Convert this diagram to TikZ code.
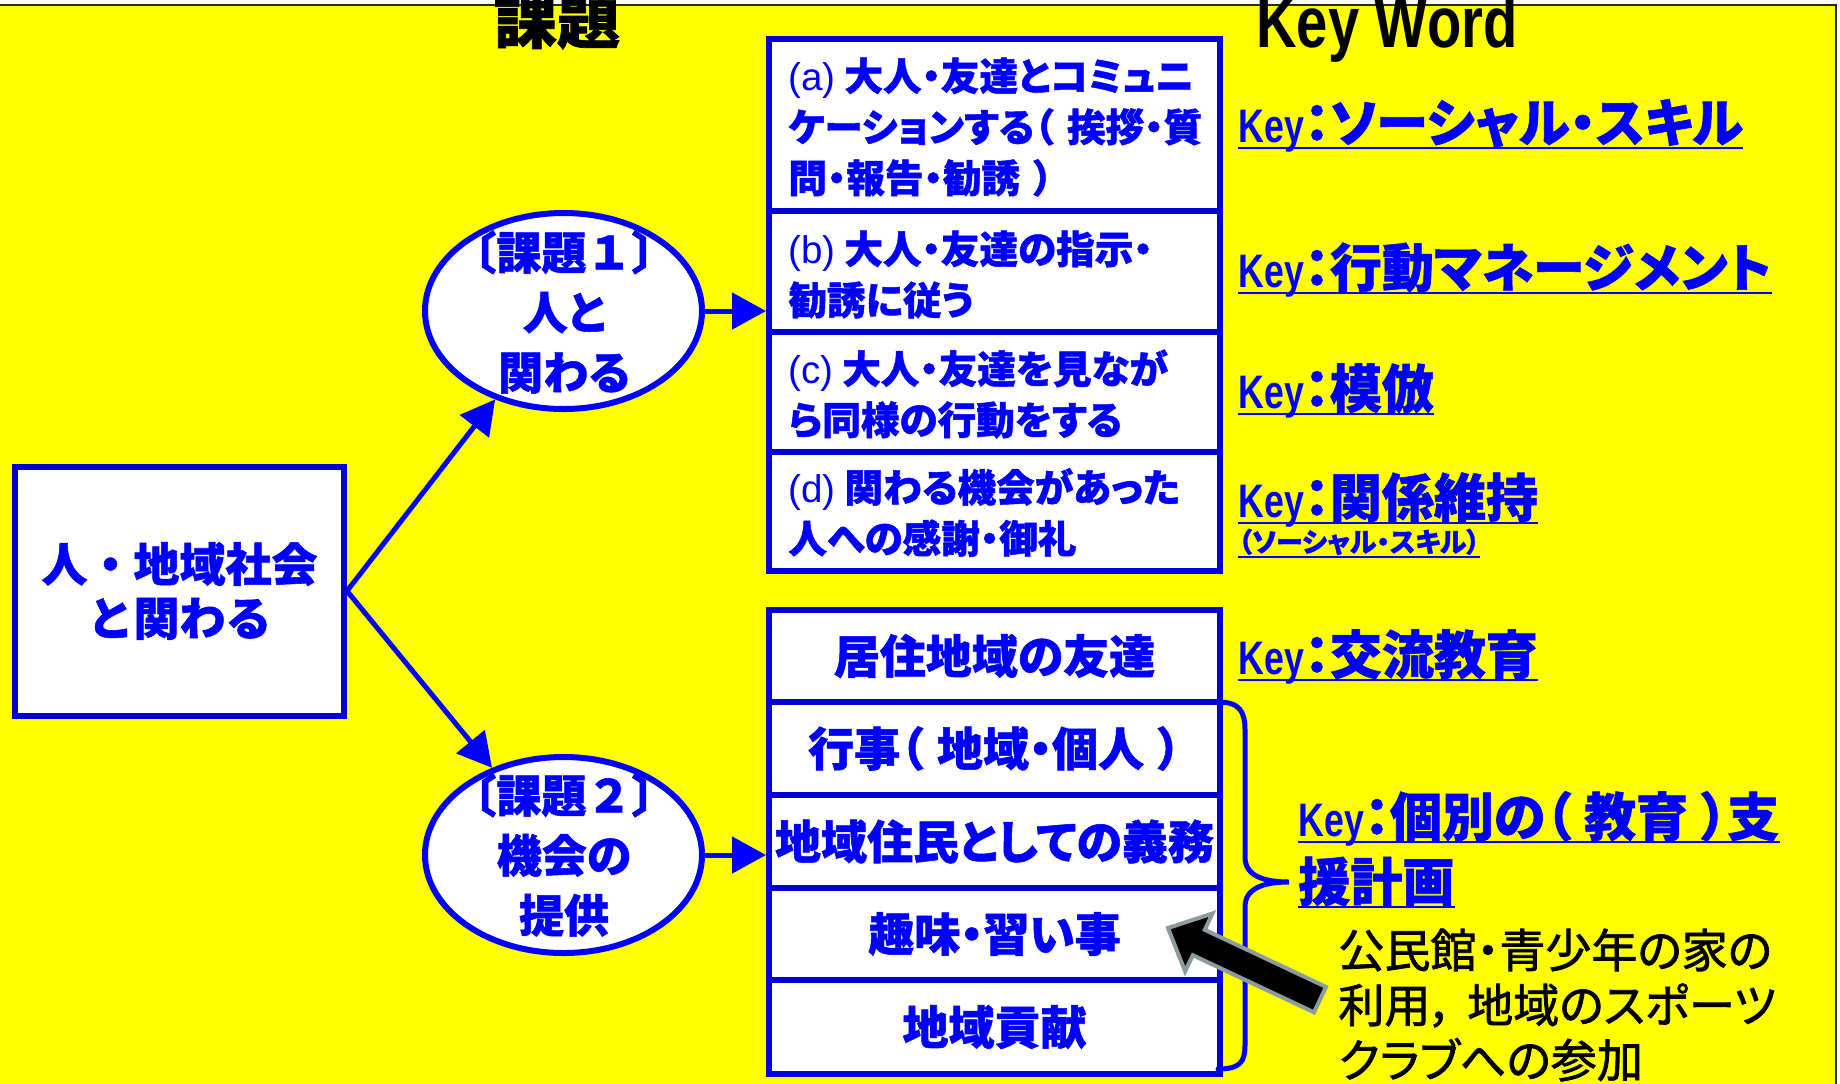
\documentclass[tikz,border=0pt]{standalone}
\usepackage{fontspec}
\setmainfont{Liberation Sans}
\newfontfamily\jp[RawFeature=+palt, BoldFeatures={FakeBold=1.2}]{Noto Sans CJK JP}
\newfontfamily\jpn[BoldFeatures={FakeBold=1.2}]{Noto Sans CJK JP}
\newfontfamily\jpm[RawFeature=+palt, FakeBold=1.6]{Noto Sans CJK JP}
\newfontfamily\narrow[FakeStretch=0.76]{Liberation Sans}
\newfontfamily\titlelat[FakeStretch=0.78]{Liberation Sans}
\usetikzlibrary{shapes.geometric,arrows.meta}
\definecolor{bgyellow}{RGB}{255,255,0}
\definecolor{tblue}{RGB}{0,0,255}
\definecolor{bblue}{RGB}{0,0,215}
\definecolor{agray}{RGB}{140,156,156}
\definecolor{framegray}{RGB}{40,40,40}
\newcommand\fs[2]{\fontsize{#1}{#2}\selectfont}
\newcommand\Key{{\narrow\bfseries\fs{23.5}{28}Key}}
\newcommand\K[1]{\Key{\jp\bfseries\fs{26}{30}：#1}}
\tikzset{
  box/.style={draw=bblue, line width=3pt, fill=white, inner sep=0pt},
  arr/.style={draw=tblue, line width=2.5pt, -{Triangle[length=17pt,width=18pt]}},
  oval/.style={ellipse, draw=tblue, line width=3pt, fill=white, minimum width=138.5pt, minimum height=98pt, inner sep=0pt},
  ovtxt/.style={text=tblue, font=\jp\bfseries\fs{22.5}{30}, align=center, inner sep=0pt},
  trow/.style={box, minimum width=225.5pt},
  rowtxt/.style={text=tblue, font=\jp\bfseries\fs{19.3}{25.5}, align=left, anchor=west, inner sep=0pt},
  brow/.style={box, minimum width=225.5pt, text=tblue, font=\jp\bfseries\fs{23}{27}},
  keyt/.style={anchor=base west, inner sep=0pt, text=tblue},
  uline/.style={draw=tblue, line width=1pt},
}
\begin{document}
\begin{tikzpicture}[x=0.5pt,y=-0.5pt]
\useasboundingbox (0,0) rectangle (1840,1083);
\clip (0,0) rectangle (1840,1083);
% background frame
\fill[bgyellow] (-5,5) rectangle (1836,1095);
\draw[framegray, line width=1.3pt] (-5,5) -- (1836,5) -- (1836,1095);

% titles
\node[anchor=base, inner sep=0pt, font=\jp\bfseries\fs{31.5}{34}] (t1) at (557,43) {課題};
\node[anchor=base west, inner sep=0pt, font=\titlelat\bfseries\fs{36}{40}] (t2) at (1256,47) {Key Word};

% left box
\node[box, minimum width=164.5pt, minimum height=124.5pt, text=tblue, align=center,
      font=\jpn\bfseries\fs{23}{27}] (root) at (179.5,591) {人・地域社会\\と関わる};

% ellipses
\node[oval] (e1) at (563.5,311) {};
\node[ovtxt] (e1t) at (564,312) {{\jpn〔課題１〕}\\人と\\関わる};
\node[oval] (e2) at (563.5,855) {};
\node[ovtxt] (e2t) at (564,855) {{\jpn〔課題２〕}\\機会の\\提供};

% top list box
\node[trow, minimum height=86pt] (ra) at (994.5,125) {};
\node[trow, minimum height=60.5pt] (rb) at (994.5,271.5) {};
\node[trow, minimum height=60pt] (rc) at (994.5,392) {};
\node[trow, minimum height=59.5pt] (rd) at (994.5,511.5) {};
\node[rowtxt] (ta) at (788,127) {{\rmfamily\mdseries (a)} 大人・友達とコミュニ\\ケーションする（\hspace{0.35em}挨拶・質\\問・報告・勧誘\hspace{0.35em}）};
\node[rowtxt] (tb) at (788,274.5) {{\rmfamily\mdseries (b)} 大人・友達の指示・\\勧誘に従う};
\node[rowtxt] (tc) at (788,394) {{\rmfamily\mdseries (c)} 大人・友達を見なが\\ら同様の行動をする};
\node[rowtxt] (td) at (788,512.5) {{\rmfamily\mdseries (d)} 関わる機会があった\\人への感謝・御礼};

% bottom list box
\node[brow, minimum height=46pt] (r1) at (994.5,656) {居住地域の友達};
\node[brow, minimum height=46.5pt] (r2) at (994.5,748.5) {行事（\hspace{0.3em}地域・個人\hspace{0.3em}）};
\node[brow, minimum height=46.5pt] (r3) at (994.5,841.5) {地域住民としての義務};
\node[brow, minimum height=46pt] (r4) at (994.5,934) {趣味・習い事};
\node[brow, minimum height=47pt] (r5) at (994.5,1027) {地域貢献};

% connectors
\draw[arr] (root.east) -- (e1);
\draw[arr] (root.east) -- (e2);
\draw[arr] (e1.east) -- (e1.east -| rb.west);
\draw[arr] (e2.east) -- (e2.east -| r3.west);

% key words
\node[keyt] (k1) at (1238,142) {\K{ソーシャル・スキル}};
\node[keyt] (k2) at (1238,287) {\K{行動マネージメント}};
\node[keyt] (k3) at (1238,408) {\K{模倣}};
\node[keyt] (k4) at (1238,517) {\K{関係維持}};
\node[keyt] (k4s) at (1238,552) {{\jp\bfseries\fs{13.5}{15}（ソーシャル・スキル）}};
\node[keyt] (k5) at (1238,674) {\K{交流教育}};
\node[keyt] (k6) at (1298,836) {\K{個別の（\hspace{0.25em}教育\hspace{0.25em}）支}};
\node[keyt] (k6b) at (1298,901) {{\jp\bfseries\fs{26}{30}援計画}};
\foreach \k in {k1,k2,k3,k4,k5,k6,k6b}{
  \draw[uline] ([yshift=-3pt]\k.base west) -- ([yshift=-3pt]\k.base east);
}
\draw[uline] ([yshift=-2.5pt]k4s.base west) -- ([yshift=-2.5pt]k4s.base east);

% brace
\draw[tblue, line width=2.5pt, line cap=round]
  (1218,702) .. controls (1240,702) and (1245,712) .. (1245,730)
  -- (1245,857) .. controls (1245,875) and (1262,882) .. (1289,882)
  .. controls (1262,882) and (1245,889) .. (1245,907)
  -- (1245,1045) .. controls (1245,1062) and (1240,1069) .. (1218,1069);

% note text
\node[anchor=west, inner sep=0pt, align=left, font=\jpm\fs{23}{27.5}] (note) at (1338,1005)
  {公民館・青少年の家の\\利用，\hspace{0.3em}地域のスポーツ\\クラブへの参加};

% black block arrow
\coordinate (btip) at (1168,928);
\filldraw[fill=black, draw=agray, line width=2pt, line join=miter]
  (btip) -- (1212.4,913.5) -- (1204.8,929.8) -- (1326.0,986.9) -- (1314.0,1012.3)
  -- (1192.8,955.2) -- (1185.1,971.4) -- cycle;
\end{tikzpicture}
\end{document}
